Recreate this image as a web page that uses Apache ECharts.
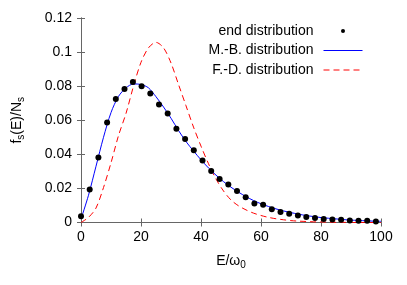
<!DOCTYPE html>
<html>
<head>
<meta charset="utf-8">
<script src="https://cdn.jsdelivr.net/npm/echarts@6/dist/echarts.min.js"></script>
<style>html,body{margin:0;padding:0;background:#fff;}#c{width:407px;height:285px;}</style>
</head>
<body>
<div id="c"></div>
<script>
// end distribution (dots)
var dotE = [0, 2.9, 5.8, 8.7, 11.6, 14.5, 17.3, 20.2, 23.1, 26.0, 28.9, 31.8, 34.7, 37.6, 40.5, 43.4, 46.2, 49.1, 52.0, 54.9, 57.8, 60.7, 63.6, 66.5, 69.4, 72.3, 75.1, 78.0, 80.9, 83.8, 86.7, 89.6, 92.5, 95.4, 98.3];
var dotF = [0.0037, 0.0194, 0.0382, 0.0587, 0.0724, 0.0783, 0.0824, 0.0799, 0.0757, 0.0692, 0.0640, 0.0550, 0.0490, 0.0424, 0.0364, 0.0302, 0.0255, 0.0223, 0.0185, 0.0148, 0.0112, 0.0104, 0.0078, 0.0061, 0.0051, 0.0041, 0.0032, 0.0026, 0.0020, 0.0018, 0.0016, 0.0012, 0.0010, 0.0010, 0.0006];
// curves sampled at these energies
var curveE = [0, 2.5, 5, 7.5, 10, 12.5, 15, 17.5, 20, 22.5, 25, 27.5, 30, 32.5, 35, 37.5, 40, 42.5, 45, 47.5, 50, 52.5, 55, 57.5, 60, 62.5, 65, 67.5, 70, 72.5, 75, 77.5, 80, 82.5, 85, 87.5, 90, 92.5, 95, 97.5, 100];
var mbF = [0.002, 0.016, 0.033, 0.050, 0.0645, 0.0740, 0.0790, 0.0813, 0.0810, 0.0790, 0.0738, 0.0678, 0.0612, 0.0540, 0.0475, 0.0420, 0.0368, 0.0320, 0.0278, 0.0240, 0.0207, 0.0178, 0.0152, 0.0129, 0.0110, 0.0094, 0.0080, 0.0068, 0.0058, 0.0049, 0.0041, 0.0035, 0.0029, 0.0025, 0.0021, 0.0017, 0.0014, 0.0012, 0.0010, 0.0008, 0.0007];
var fdF = [0, 0.003, 0.0085, 0.0205, 0.035, 0.051, 0.064, 0.080, 0.094, 0.1025, 0.1057, 0.1025, 0.0936, 0.081, 0.0685, 0.056, 0.0448, 0.0345, 0.0255, 0.0185, 0.0132, 0.0098, 0.0074, 0.0055, 0.0041, 0.0030, 0.0022, 0.0016, 0.0011, 0.0008, 0.0006, 0.0004, 0.0003, 0.0002, 0.0001, 0.0001, 0, 0, 0, 0, 0];
var xTicks = [0, 20, 40, 60, 80, 100];
var yTicks = [0, 0.02, 0.04, 0.06, 0.08, 0.1, 0.12];

function zip(a, b) { return a.map(function (v, i) { return [v, b[i]]; }); }

var FONT = '"Liberation Sans", Arial, Helvetica, sans-serif';
var AX = '#666';
var chart = echarts.init(document.getElementById('c'), null, {renderer: 'canvas'});
chart.setOption({
  animation: false,
  backgroundColor: '#fff',
  textStyle: {fontFamily: FONT},
  grid: {left: 81, right: 26, top: 18, bottom: 62.5},
  legend: {
    orient: 'vertical', align: 'right', right: 44, top: 24, padding: 0,
    itemWidth: 39, itemHeight: 14, itemGap: 5.5,
    lineStyle: {width: 1},
    textStyle: {fontFamily: FONT, fontSize: 14, color: '#000', padding: [0, 5, 0, 0]},
    data: [
      {name: 'end distribution', icon: 'path://M0,0M39,14M17.5,7a2,2 0 1,0 4,0a2,2 0 1,0 -4,0z', itemStyle: {color: '#000', opacity: 1}},
      {name: 'M.-B. distribution', itemStyle: {opacity: 0}},
      {name: 'F.-D. distribution', itemStyle: {opacity: 0}}
    ]
  },
  xAxis: [{
    type: 'value', min: xTicks[0], max: xTicks[xTicks.length - 1], interval: 20,
    name: 'E/ω{s|0}', nameLocation: 'middle', nameGap: 30,
    nameTextStyle: {fontFamily: FONT, fontSize: 14, color: '#000', rich: {s: {fontSize: 10, fontFamily: FONT, color: '#000', verticalAlign: 'bottom', padding: [8, 0, 0, 0]}}},
    axisLine: {lineStyle: {color: AX, width: 1}},
    axisTick: {inside: true, length: 4, lineStyle: {color: AX}},
    axisLabel: {fontSize: 14, color: '#000', fontFamily: FONT, margin: 8},
    splitLine: {show: false}
  }, {
    type: 'value', position: 'top', min: 0, max: 100, interval: 20,
    axisLine: {show: true, lineStyle: {color: AX, width: 1}},
    axisTick: {inside: true, length: 4, lineStyle: {color: AX}},
    axisLabel: {show: false}, splitLine: {show: false}
  }],
  yAxis: [{
    type: 'value', min: yTicks[0], max: yTicks[yTicks.length - 1], interval: 0.02,
    name: '{a|f}{s|s}{a|(E)/N}{s|s}', nameLocation: 'middle', nameGap: 55, nameRotate: 90,
    nameTextStyle: {fontFamily: FONT, fontSize: 14, color: '#000', rich: {
      a: {fontSize: 14, fontFamily: FONT, color: '#000'},
      s: {fontSize: 10, fontFamily: FONT, color: '#000', verticalAlign: 'bottom', padding: [8, 0, 0, 0]}
    }},
    axisLine: {show: true, lineStyle: {color: AX, width: 1}},
    axisTick: {show: true, inside: true, length: 4, lineStyle: {color: AX}},
    axisLabel: {fontSize: 14, color: '#000', fontFamily: FONT, margin: 9},
    splitLine: {show: false}
  }, {
    type: 'value', position: 'right', min: 0, max: 0.12, interval: 0.02,
    axisLine: {show: true, lineStyle: {color: AX, width: 1}},
    axisTick: {show: true, inside: true, length: 4, lineStyle: {color: AX}},
    axisLabel: {show: false}, splitLine: {show: false}
  }],
  series: [
    {name: 'F.-D. distribution', type: 'line', data: zip(curveE, fdF), smooth: 0.3, showSymbol: false, symbol: 'none',
     lineStyle: {color: '#ff0000', width: 1, type: [6, 4]}, itemStyle: {color: '#ff0000'}, z: 2},
    {name: 'M.-B. distribution', type: 'line', data: zip(curveE, mbF), smooth: 0.3, showSymbol: false, symbol: 'none',
     lineStyle: {color: '#0000ff', width: 1}, itemStyle: {color: '#0000ff'}, z: 3},
    {name: 'end distribution', type: 'scatter', data: zip(dotE, dotF), symbol: 'circle', symbolSize: 6,
     itemStyle: {color: '#000', opacity: 1}, z: 4}
  ]
});
</script>
</body>
</html>
